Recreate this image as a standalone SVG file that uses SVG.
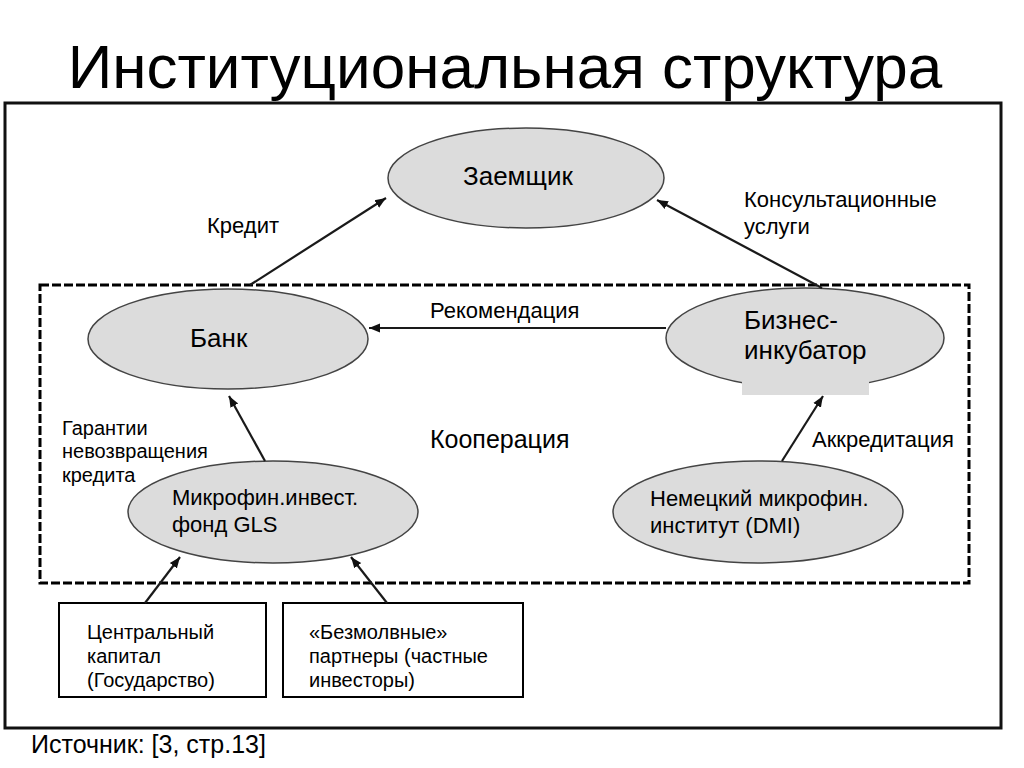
<svg xmlns="http://www.w3.org/2000/svg" width="1024" height="768" viewBox="0 0 1024 768">
<defs>
<marker id="ah" viewBox="0 0 10 10" refX="10" refY="5" markerWidth="11" markerHeight="11" markerUnits="userSpaceOnUse" orient="auto">
<path d="M0,1 L10,5 L0,9 z" fill="#111"/>
</marker>
<style>
text{font-family:"Liberation Sans",Arial,sans-serif;fill:#000}
.node{fill:#dcdcdc;stroke:#444;stroke-width:1.5}
.box{fill:#fff;stroke:#000;stroke-width:2}
.conn line{stroke:#1a1a1a;stroke-width:2.2;marker-end:url(#ah)}
.lbl{font-size:22px}
.big{font-size:26px}
.nl{font-size:22px}
.bx{font-size:20px}
</style>
</defs>
<rect width="1024" height="768" fill="#fff"/>
<text x="505" y="88" font-size="62" text-anchor="middle">Институциональная структура</text>
<rect id="frame" x="5" y="103" width="996" height="625" fill="none" stroke="#111" stroke-width="3"/>
<rect id="coop" x="40" y="285" width="929" height="298" fill="none" stroke="#000" stroke-width="3" stroke-dasharray="9,3"/>
<g id="zaemshik">
<ellipse class="node" cx="526" cy="178" rx="138" ry="50"/>
<text class="big" x="463" y="185">Заемщик</text>
</g>
<g id="bank">
<ellipse class="node" cx="228" cy="339" rx="140" ry="50"/>
<text class="big" x="190" y="347">Банк</text>
</g>
<g id="incubator">
<ellipse class="node" cx="805" cy="338" rx="139" ry="50"/>
<rect x="742" y="375" width="127" height="20" fill="#dcdcdc"/>
<text class="big" x="744" y="329">Бизнес-</text>
<text class="big" x="744" y="359">инкубатор</text>
</g>
<g id="gls">
<ellipse class="node" cx="273" cy="512" rx="145" ry="51"/>
<text class="nl" x="172" y="505">Микрофин.инвест.</text>
<text class="nl" x="172" y="532">фонд GLS</text>
</g>
<g id="dmi">
<ellipse class="node" cx="758" cy="512" rx="145" ry="51"/>
<text class="nl" x="650" y="506">Немецкий микрофин.</text>
<text class="nl" x="650" y="533">институт (DMI)</text>
</g>
<g id="central">
<rect class="box" x="59" y="603" width="207" height="94"/>
<text class="bx" x="87" y="639">Центральный</text>
<text class="bx" x="87" y="663">капитал</text>
<text class="bx" x="87" y="687">(Государство)</text>
</g>
<g id="partners">
<rect class="box" x="283" y="603" width="240" height="94"/>
<text class="bx" x="309" y="639">«Безмолвные»</text>
<text class="bx" x="309" y="663">партнеры (частные</text>
<text class="bx" x="309" y="687">инвесторы)</text>
</g>
<g class="conn" id="connectors">
<line x1="250" y1="285" x2="386" y2="198"/>
<line x1="822" y1="288" x2="657" y2="200"/>
<line x1="666" y1="328" x2="369" y2="328"/>
<line x1="265" y1="461" x2="229" y2="396"/>
<line x1="782" y1="461" x2="823" y2="396"/>
<line x1="145" y1="603" x2="180" y2="557"/>
<line x1="387" y1="603" x2="351" y2="557"/>
</g>
<g id="labels">
<text class="lbl" x="207" y="233">Кредит</text>
<text class="lbl" x="744" y="207">Консультационные</text>
<text class="lbl" x="744" y="234">услуги</text>
<text class="lbl" x="430" y="318">Рекомендация</text>
<text class="bx" x="62" y="435">Гарантии</text>
<text class="bx" x="62" y="458">невозвращения</text>
<text class="bx" x="62" y="482">кредита</text>
<text x="430" y="448" font-size="25">Кооперация</text>
<text class="lbl" x="812" y="447">Аккредитация</text>
</g>
<text x="31" y="753" font-size="25">Источник: [3, стр.13]</text>
</svg>
